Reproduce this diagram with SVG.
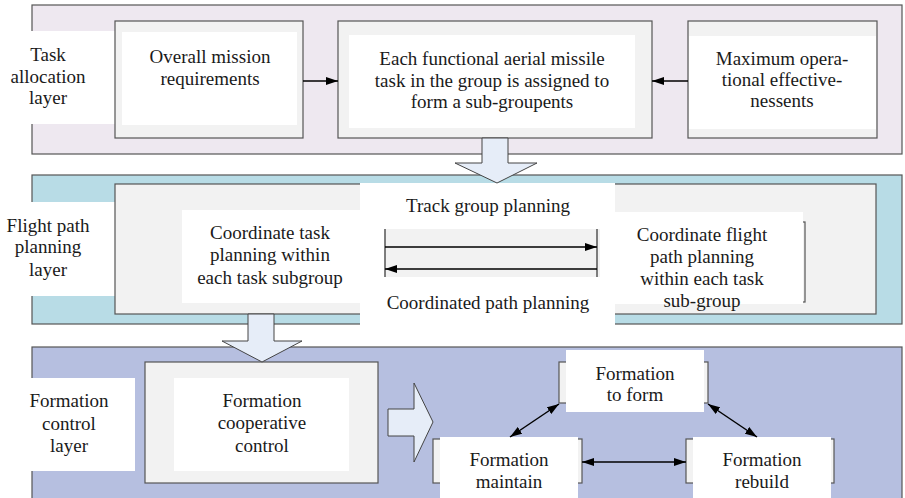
<svg xmlns="http://www.w3.org/2000/svg" width="905" height="498" viewBox="0 0 905 498">
<defs>
<marker id="ah" viewBox="0 0 12 8" refX="12" refY="4" markerWidth="12" markerHeight="8" markerUnits="userSpaceOnUse" orient="auto-start-reverse">
<path d="M0,0 L12,4 L0,8 Z" fill="#000"/>
</marker>
</defs>
<style>
text{font-family:'Liberation Serif','DejaVu Serif',serif;font-size:19px;fill:#1a1a1a;text-anchor:middle}
.layer{stroke:#555;stroke-width:1.2}
.box{fill:#f2f2f2;stroke:#555;stroke-width:1.2}
.wh{fill:#fff}
.blk{fill:#e6edf8;stroke:#444;stroke-width:1}
.ln{stroke:#000;stroke-width:1.5;fill:none}
.vl{stroke:#555;stroke-width:1.5}
</style>
<rect width="905" height="498" fill="#fff"/>

<!-- Layer 1 -->
<g id="layer-task">
<rect class="layer" x="32" y="5" width="870" height="149" fill="#eee8f0"/>
<rect class="wh" x="0" y="31" width="115" height="93"/>
<text x="48" y="61">Task</text>
<text x="48" y="83">allocation</text>
<text x="48" y="104">layer</text>
</g>
<g id="node-overall">
<rect class="box" x="115" y="21" width="188" height="117"/>
<rect class="wh" x="122" y="32" width="175" height="93"/>
<text x="210" y="63">Overall mission</text>
<text x="210" y="85">requirements</text>
</g>
<g id="node-each">
<rect class="box" x="338" y="21" width="314" height="117"/>
<rect class="wh" x="349" y="35" width="286" height="93"/>
<text x="492" y="65">Each functional aerial missile</text>
<text x="492" y="87">task in the group is assigned to</text>
<text x="492" y="108">form a sub-groupents</text>
</g>
<g id="node-maximum">
<rect class="box" x="688" y="21" width="189" height="117"/>
<rect class="wh" x="689" y="36" width="187" height="93"/>
<text x="782" y="65">Maximum opera-</text>
<text x="782" y="86">tional effective-</text>
<text x="782" y="107">nessents</text>
</g>

<!-- Layer 2 -->
<g id="layer-flight">
<rect class="layer" x="32" y="175" width="870" height="149" fill="#b8dce6"/>
<rect class="wh" x="0" y="202" width="115" height="94"/>
<text x="48" y="232">Flight path</text>
<text x="48" y="253">planning</text>
<text x="48" y="276">layer</text>
<rect class="box" x="115" y="184" width="761" height="130"/>
</g>
<g id="node-coord-task">
<rect class="wh" x="182" y="210" width="178" height="93"/>
<text x="270" y="239">Coordinate task</text>
<text x="270" y="261">planning within</text>
<text x="270" y="284">each task subgroup</text>
</g>
<g id="node-coord-flight">
<rect class="box" x="612" y="222" width="193" height="80"/>
<rect class="wh" x="615" y="212" width="188" height="92"/>
<text x="702" y="241">Coordinate flight</text>
<text x="702" y="263">path planning</text>
<text x="702" y="285">within each task</text>
<text x="702" y="307">sub-group</text>
</g>
<g id="node-track">
<rect class="wh" x="360" y="183" width="255" height="142"/>
<rect x="385" y="229" width="215" height="48" fill="#f2f2f2"/>
<line class="vl" x1="385" y1="229" x2="385" y2="277"/>
<line class="vl" x1="597" y1="229" x2="597" y2="277"/>
<text x="488" y="212">Track group planning</text>
<text x="488" y="309">Coordinated path planning</text>
</g>

<!-- Layer 3 -->
<g id="layer-formation">
<rect class="layer" x="32" y="347" width="870" height="152" fill="#b6bfe0"/>
<rect class="wh" x="0" y="378" width="135" height="93"/>
<text x="69" y="407">Formation</text>
<text x="69" y="430">control</text>
<text x="69" y="452">layer</text>
</g>
<g id="node-coop">
<rect class="box" x="145" y="362" width="233" height="121"/>
<rect class="wh" x="174" y="378" width="175" height="93"/>
<text x="262" y="407">Formation</text>
<text x="262" y="429">cooperative</text>
<text x="262" y="452">control</text>
</g>
<g id="node-toform">
<rect class="box" x="559" y="362" width="149" height="41"/>
<rect class="wh" x="566" y="350" width="138" height="62"/>
<text x="635" y="380">Formation</text>
<text x="635" y="401">to form</text>
</g>
<g id="node-maintain">
<rect class="box" x="433" y="439" width="149" height="44"/>
<rect class="wh" x="440" y="437" width="138" height="61"/>
<text x="509" y="466">Formation</text>
<text x="509" y="488">maintain</text>
</g>
<g id="node-rebuild">
<rect class="box" x="686" y="439" width="148" height="44"/>
<rect class="wh" x="693" y="437" width="138" height="61"/>
<text x="762" y="466">Formation</text>
<text x="762" y="488">rebuild</text>
</g>

<!-- Connectors -->
<g id="connectors">
<line class="ln" x1="303" y1="81" x2="338" y2="81" marker-end="url(#ah)"/>
<line class="ln" x1="688" y1="81" x2="652" y2="81" marker-end="url(#ah)"/>
<polygon class="blk" points="482,138 508,138 508,163 537,163 497,183 455,163 482,163"/>
<line class="ln" x1="385" y1="247" x2="597" y2="247" marker-end="url(#ah)"/>
<line class="ln" x1="597" y1="269" x2="385" y2="269" marker-end="url(#ah)"/>
<polygon class="blk" points="248,314 274,314 274,341 302,341 262,362 222,341 248,341"/>
<polygon class="blk" points="388,409 414,409 414,383 433,422 414,462 414,436 388,436"/>
<line class="ln" x1="510" y1="437" x2="559" y2="404" marker-start="url(#ah)" marker-end="url(#ah)"/>
<line class="ln" x1="708" y1="404" x2="757" y2="437" marker-start="url(#ah)" marker-end="url(#ah)"/>
<line class="ln" x1="582" y1="462" x2="686" y2="462" marker-start="url(#ah)" marker-end="url(#ah)"/>
</g>
</svg>
